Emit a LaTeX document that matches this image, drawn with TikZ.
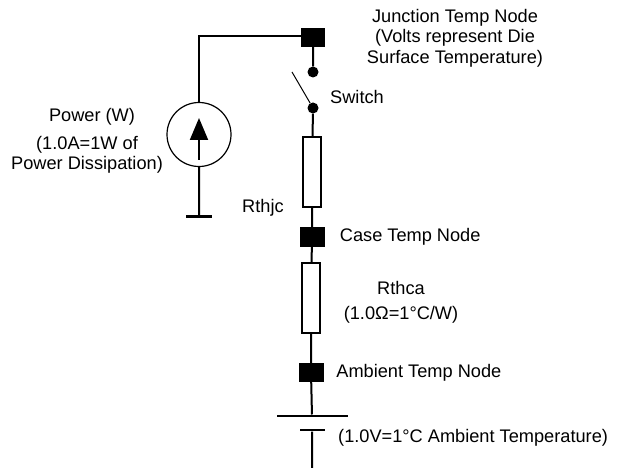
\documentclass[tikz,border=0pt]{standalone}
\usepackage{fontspec}
\setmainfont{Liberation Sans}
\usepackage{tikz}
\usetikzlibrary{positioning, arrows.meta, calc}

\begin{document}
\begin{tikzpicture}[x=1pt, y=-1pt,
    tnode/.style={rectangle, fill=black, inner sep=0pt, minimum width=24pt, minimum height=19pt},
    pin/.style={circle, fill=black, inner sep=0pt, minimum size=11pt},
    res/.style={rectangle, draw, line width=1.3pt, inner sep=0pt, minimum width=18pt, minimum height=70pt},
    plate/.style={rectangle, fill=black, inner sep=0pt, minimum height=2.6pt},
    lbl/.style={inner sep=0pt, font=\fontsize{18.2}{20.5}\selectfont, align=center},
    wire/.style={line width=2pt}]
    \useasboundingbox (0,0) rectangle (625,468);

    \node[tnode] (j) at (313,37.5) {};
    \node[pin] (s1) at (313,72) {};
    \node[pin] (s2) at (313,108) {};
    \coordinate (sw) at (292,72);
    \node[res] (rjc) at (312,172) {};
    \node[tnode, minimum width=25pt, minimum height=20pt] (c) at (312,237) {};
    \node[res] (rca) at (311,298) {};
    \node[tnode, minimum width=25pt] (a) at (311,372.5) {};
    \node[plate, minimum width=71pt] (bl) at (312,416) {};
    \node[plate, minimum width=25pt] (bs) at (312,430) {};
    \coordinate (bend) at (312,468);

    \node[circle, draw, line width=1.2pt, minimum size=64pt, inner sep=0pt] (src) at (199,134.5) {};
    \node[plate, minimum width=26pt, minimum height=3pt] (g) at (199,217) {};

    \draw[wire]
        (j) -- (s1)
        (s2) -- (rjc)
        (rjc) -- (c)
        (c) -- (rca)
        (rca) -- (a)
        (a) -- (bl)
        (bs) -- (bend)
        (src) -- (g)
        ;
    \draw[wire] ([yshift=1.5pt]j.west) -| (src);
    \draw[line width=1pt] (s2) -- (sw);
    \draw[line width=2pt, -{Triangle[length=22pt, width=18pt]}]
        ($(src.center)+(0,25.5)$) -- ($(src.center)+(0,-16.5)$);

    \node[lbl] (jt) at (455,38) {Junction Temp Node\\(Volts represent Die\\Surface Temperature)};
    \node[lbl, anchor=west] (swt) at (330,97) {Switch};
    \node[lbl] (pw) at (92,117) {Power (W)};
    \node[lbl] (pwd) at (87,155) {(1.0A=1W of\\Power Dissipation)};
    \node[lbl, anchor=west] (rjct) at (242,208) {Rthjc};
    \node[lbl, anchor=west, right=15pt of c] (ct) {Case Temp Node};
    \node[lbl] (rcat) at (401,288) {Rthca};
    \node[lbl] (rcav) at (401,315) {(1.0Ω=1°C/W)};
    \node[lbl, anchor=west, right=12.5pt of a] (at) {Ambient Temp Node};
    \node[lbl, anchor=west] (bt) at (338,438) {(1.0V=1°C Ambient Temperature)};
\end{tikzpicture}
\end{document}
